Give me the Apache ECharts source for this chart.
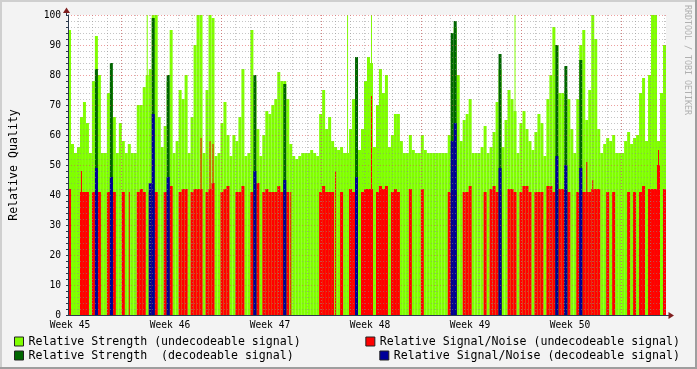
<!DOCTYPE html>
<html><head><meta charset="utf-8">
<script src="https://cdn.jsdelivr.net/npm/echarts@6/dist/echarts.min.js"></script>
<style>html,body{margin:0;padding:0;background:#f3f3f3}#c{width:697px;height:369px}</style>
</head><body><div id="c"></div>
<script>
// ---- data ----
const weekLabels = ['Week 45', 'Week 46', 'Week 47', 'Week 48', 'Week 49', 'Week 50'];
const yTicks = [0, 10, 20, 30, 40, 50, 60, 70, 80, 90, 100];

// Relative Strength (undecodeable signal) - one value per time slot
const strengthUndecodeable = [
  95,57,54,56,66,71,64,54,78,93,80,54,54,74,78,66,54,64,58,54,
  57,54,54,70,70,76,80,82,100,100,66,56,63,78,95,54,58,75,72,80,
  54,66,90,100,100,54,75,100,99,53,54,64,71,60,53,60,58,66,82,53,
  54,95,78,62,53,60,68,67,70,72,81,78,78,72,57,53,52,53,54,54,
  54,55,54,53,67,75,62,66,58,56,55,56,54,54,62,72,82,55,62,78,
  86,84,56,70,82,74,80,56,60,67,67,58,54,54,60,55,54,54,60,55,
  54,54,54,54,54,54,54,60,88,96,80,58,65,67,72,54,54,54,56,63,
  54,56,61,71,82,56,65,75,72,68,54,64,68,62,58,55,61,67,64,53,
  72,80,96,90,74,74,75,72,62,54,72,90,95,65,75,100,92,62,54,57,
  59,58,60,54,54,54,58,61,57,59,60,74,79,58,80,100,100,58,74,90
];
// Relative Signal/Noise (undecodeable signal)
const snrUndecodeable = [
  42,0,0,0,41,41,41,0,41,41,41,0,0,41,41,41,0,0,41,0,
  0,0,0,41,42,41,0,41,41,41,0,0,41,41,43,0,0,41,42,42,
  0,41,42,42,42,0,41,42,44,0,0,41,42,43,0,0,41,41,43,0,
  0,41,41,44,0,41,42,41,41,41,43,41,41,41,0,0,0,0,0,0,
  0,0,0,0,41,43,41,41,41,0,0,41,0,0,42,41,41,0,41,42,
  42,42,0,41,43,42,43,0,41,42,41,0,0,0,42,0,0,0,42,0,
  0,0,0,0,0,0,0,41,41,41,0,0,41,41,43,0,0,0,0,41,
  0,42,43,41,41,0,0,42,42,41,0,41,43,43,41,0,41,41,41,0,
  43,43,41,45,42,42,42,41,0,0,41,41,41,41,41,42,42,42,0,0,
  41,0,41,0,0,0,0,41,0,41,0,41,43,0,42,42,42,50,0,42
];
// Relative Strength (decodeable signal)
const strengthDecodeable = [
  0,0,0,0,0,0,0,0,0,82,0,0,0,0,84,0,0,0,0,0,
  0,0,0,0,0,0,0,0,99,0,0,0,0,80,0,0,0,0,0,0,
  0,0,0,0,0,0,0,0,0,0,0,0,0,0,0,0,0,0,0,0,
  0,0,80,0,0,0,0,0,0,0,0,0,77,0,0,0,0,0,0,0,
  0,0,0,0,0,0,0,0,0,0,0,0,0,0,0,0,86,0,0,0,
  0,0,0,0,0,0,0,0,0,0,0,0,0,0,0,0,0,0,0,0,
  0,0,0,0,0,0,0,0,94,98,0,0,0,0,0,0,0,0,0,0,
  0,0,0,0,87,0,0,0,0,0,0,0,0,0,0,0,0,0,0,0,
  0,0,0,90,0,0,83,0,0,0,0,85,0,0,0,0,0,0,0,0,
  0,0,0,0,0,0,0,0,0,0,0,0,0,0,0,0,0,0,0,0
];
// Relative Signal/Noise (decodeable signal)
const snrDecodeable = [
  0,0,0,0,0,0,0,0,0,49,0,0,0,0,46,0,0,0,0,0,
  0,0,0,0,0,0,0,44,67,0,0,0,0,46,0,0,0,0,0,0,
  0,0,0,0,0,0,0,0,0,0,0,0,0,0,0,0,0,0,0,0,
  0,0,48,0,0,0,0,0,0,0,0,0,45,0,0,0,0,0,0,0,
  0,0,0,0,0,0,0,0,0,0,0,0,0,0,0,0,46,0,0,0,
  0,0,0,0,0,0,0,0,0,0,0,0,0,0,0,0,0,0,0,0,
  0,0,0,0,0,0,0,0,58,64,0,0,0,0,0,0,0,0,0,0,
  0,0,0,0,49,0,0,0,0,0,0,0,0,0,0,0,0,0,0,0,
  0,0,0,53,0,0,50,0,0,0,0,49,0,0,0,0,0,0,0,0,
  0,0,0,0,0,0,0,0,0,0,0,0,0,0,0,0,0,0,0,0
];
// single-sample (1 px) spikes: [slot, value]
const strengthUndecodeableSpikes = [[26,100],[93,100],[101,100],[149,100]];
const snrUndecodeableSpikes = [[4,48],[20,41],[44,59],[47,58],[48,57],[74,41],[89,48],[96,51],[101,73],[144,51],[173,51],[175,45],[197,55]];

// ---- chart ----
const FONT = 'DejaVu Sans Mono';
const N = strengthUndecodeable.length;
const categories = strengthUndecodeable.map((_, i) => String(i));
function spikes(list) { const a = new Array(N).fill('-'); list.forEach(([i, v]) => { a[i] = v; }); return a; }
const C_LG = '#80ff00', C_RED = '#ff0000', C_DG = '#006600', C_BLUE = '#000099';
const minorGrid = 'rgba(140,140,140,0.5)';
const majorGrid = 'rgba(222,80,80,0.55)';
const DASH = [1, 2];

const chart = echarts.init(document.getElementById('c'), null, {renderer: 'canvas'});
const legendBase = {
  padding: 0, itemWidth: 9, itemHeight: 9, itemGap: 0, icon: 'rect', selectedMode: false,
  itemStyle: {borderColor: '#222', borderWidth: 1},
  textStyle: {fontFamily: FONT, fontSize: 11.6, color: '#000', lineHeight: 14}
};
chart.setOption({
  animation: false,
  backgroundColor: '#f3f3f3',
  grid: [
    {left: 66, top: 15, width: 600, height: 300, show: true, backgroundColor: '#fff', borderWidth: 0},
    {left: 78.44, top: 15, width: 585.71, height: 300},
    {left: 121.3, top: 15, width: 500, height: 300},
    {left: 70, top: 15, width: 500, height: 300}
  ],
  xAxis: [
    {type: 'category', gridIndex: 0, data: categories, boundaryGap: true,
     axisLine: {show: true, lineStyle: {color: '#2c3a4d', width: 1}},
     axisTick: {show: false}, axisLabel: {show: false}, splitLine: {show: false}, z: 12},
    {type: 'category', gridIndex: 0, data: categories, boundaryGap: true, show: false},
    {type: 'value', gridIndex: 1, min: 0, max: 41, interval: 1,
     axisLine: {show: false}, axisTick: {show: false}, axisLabel: {show: false},
     splitLine: {show: true, lineStyle: {color: minorGrid, width: 1, type: DASH}}, z: 10},
    {type: 'value', gridIndex: 2, min: 0, max: 5, interval: 1,
     axisLine: {show: false}, axisTick: {show: false}, axisLabel: {show: false},
     splitLine: {show: true, lineStyle: {color: majorGrid, width: 1, type: DASH}}, z: 11},
    {type: 'value', gridIndex: 3, min: 0, max: 5, interval: 1,
     axisLine: {show: false}, axisTick: {show: false}, splitLine: {show: false},
     axisLabel: {show: true, margin: 5, fontFamily: FONT, fontSize: 9.6, color: '#000',
                 formatter: v => weekLabels[v]}, z: 10}
  ],
  yAxis: [
    {type: 'value', gridIndex: 0, min: yTicks[0], max: yTicks[yTicks.length - 1], interval: 10,
     name: 'Relative Quality', nameLocation: 'middle', nameGap: 48,
     nameTextStyle: {fontFamily: FONT, fontSize: 11.6, color: '#000'},
     axisLine: {show: true, lineStyle: {color: '#2c3a4d', width: 1}},
     axisTick: {show: true, length: 2, lineStyle: {color: '#2c3a4d'}},
     minorTick: {show: true, splitNumber: 5, length: 2, lineStyle: {color: '#2c3a4d'}},
     axisLabel: {margin: 7, fontFamily: FONT, fontSize: 9.6, color: '#000'},
     splitLine: {show: true, lineStyle: {color: majorGrid, width: 1, type: DASH}},
     minorSplitLine: {show: true, lineStyle: {color: minorGrid, width: 1, type: DASH}},
     z: 11},
    {type: 'value', gridIndex: 1, min: 0, max: 100, show: false},
    {type: 'value', gridIndex: 2, min: 0, max: 100, show: false},
    {type: 'value', gridIndex: 3, min: 0, max: 100, show: false}
  ],
  legend: [
    Object.assign({}, legendBase, {data: ['Relative Strength (undecodeable signal)'], left: 14, top: 334.5}),
    Object.assign({}, legendBase, {data: ['Relative Strength  (decodeable signal)'], left: 14, top: 348.5}),
    Object.assign({}, legendBase, {data: ['Relative Signal/Noise (undecodeable signal)'], right: 17, top: 334.5}),
    Object.assign({}, legendBase, {data: ['Relative Signal/Noise (decodeable signal)'], right: 17, top: 348.5})
  ],
  series: [
    {name: 'Relative Strength (undecodeable signal)', type: 'bar', xAxisIndex: 0, yAxisIndex: 0,
     data: strengthUndecodeable, barGap: '-100%', barCategoryGap: 0, silent: true,
     itemStyle: {color: C_LG}},
    {name: 'strengthSpikes', type: 'bar', xAxisIndex: 1, yAxisIndex: 0, barWidth: 1, barGap: '-100%',
     data: spikes(strengthUndecodeableSpikes), silent: true, itemStyle: {color: C_LG}},
    {name: 'Relative Signal/Noise (undecodeable signal)', type: 'bar', xAxisIndex: 0, yAxisIndex: 0,
     data: snrUndecodeable, barGap: '-100%', barCategoryGap: 0, silent: true,
     itemStyle: {color: C_RED}},
    {name: 'snrSpikes', type: 'bar', xAxisIndex: 1, yAxisIndex: 0, barWidth: 1, barGap: '-100%',
     data: spikes(snrUndecodeableSpikes), silent: true, itemStyle: {color: C_RED}},
    {name: 'Relative Strength  (decodeable signal)', type: 'bar', xAxisIndex: 0, yAxisIndex: 0,
     data: strengthDecodeable, barGap: '-100%', barCategoryGap: 0, silent: true,
     itemStyle: {color: C_DG}},
    {name: 'Relative Signal/Noise (decodeable signal)', type: 'bar', xAxisIndex: 0, yAxisIndex: 0,
     data: snrDecodeable, barGap: '-100%', barCategoryGap: 0, silent: true,
     itemStyle: {color: C_BLUE}}
  ],
  graphic: [
    {type: 'rect', shape: {x: 0, y: 0, width: 697, height: 2}, style: {fill: '#cfcfcf'}, z: 100, silent: true},
    {type: 'rect', shape: {x: 0, y: 0, width: 2, height: 369}, style: {fill: '#cfcfcf'}, z: 100, silent: true},
    {type: 'rect', shape: {x: 0, y: 367, width: 697, height: 2}, style: {fill: '#9e9e9e'}, z: 100, silent: true},
    {type: 'rect', shape: {x: 695, y: 0, width: 2, height: 369}, style: {fill: '#9e9e9e'}, z: 100, silent: true},
    {type: 'line', shape: {x1: 66.5, y1: 15, x2: 66.5, y2: 12}, style: {stroke: '#2c3a4d', lineWidth: 1}, z: 100, silent: true},
    {type: 'polygon', shape: {points: [[63, 13], [70, 13], [66.5, 7.5]]}, style: {fill: '#7f1f1f'}, z: 100, silent: true},
    {type: 'line', shape: {x1: 666, y1: 315.5, x2: 669, y2: 315.5}, style: {stroke: '#2c3a4d', lineWidth: 1}, z: 100, silent: true},
    {type: 'polygon', shape: {points: [[668.5, 312], [668.5, 319], [674, 315.5]]}, style: {fill: '#7f1f1f'}, z: 100, silent: true},
    {type: 'text', x: 687.5, y: 60, rotation: -Math.PI / 2, z: 100, silent: true,
     style: {text: 'RRDTOOL / TOBI OETIKER', fill: '#b0b0b0', font: '8.3px "DejaVu Sans Mono"',
             align: 'center', verticalAlign: 'middle'}}
  ]
});
</script>
</body></html>
